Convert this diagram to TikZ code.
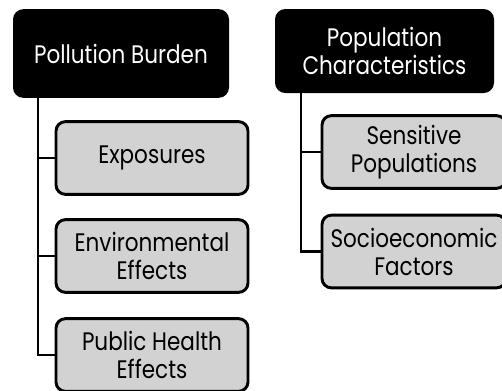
\documentclass[tikz,border=0pt]{standalone}
\usepackage{fontspec}
\setmainfont[FakeStretch=0.85]{Poppins}
\usetikzlibrary{positioning}
\definecolor{boxgray}{RGB}{210,210,210}
\tikzset{
	head/.style={draw, rectangle, rounded corners=7pt, line width=1.5pt, fill=black, text=white, minimum width=160.5pt, align=center, inner sep=2pt, font=\fontsize{19}{21}\selectfont},
	sub/.style={draw, rectangle, rounded corners=7pt, line width=2.2pt, fill=boxgray, minimum width=144pt, minimum height=54.5pt, align=center, inner sep=2pt, font=\fontsize{19}{21}\selectfont},
	link/.style={line width=2.2pt},
}

\begin{document}
\begin{tikzpicture}[x=0.75pt, y=-0.75pt]
		\useasboundingbox (0,0) rectangle (502,390);
		\clip (0,0) rectangle (502,390);
		
		\node (pb) [head, minimum height=65pt] at (121,53.5) {Pollution Burden};
		\node (pc) [head, minimum width=162.75pt, minimum height=61.5pt] at (384.5,51) {Population\\Characteristics};
		
		\node (exp) [sub] at (152,158) {Exposures};
		\node (env) [sub] at (152,256) {Environmental\\Effects};
		\node (pub) [sub] at (152,355) {Public Health\\Effects};
		
		\node (sen) [sub, minimum width=138pt] at (414,152) {Sensitive\\Populations};
		\node (soc) [sub, minimum width=138pt] at (414,251.5) {Socioeconomic\\Factors};
		
		\coordinate (tl) at (38,0);
		\coordinate (tr) at (301,0);
		
		\begin{scope}[link]
			\draw (tl |- pb.south) |- (pub.west);
			\draw (tl |- exp.west) -- (exp.west);
			\draw (tl |- env.west) -- (env.west);
			\draw (tr |- pc.south) |- (soc.west);
			\draw (tr |- sen.west) -- (sen.west);
		\end{scope}
	\end{tikzpicture}
\end{document}
